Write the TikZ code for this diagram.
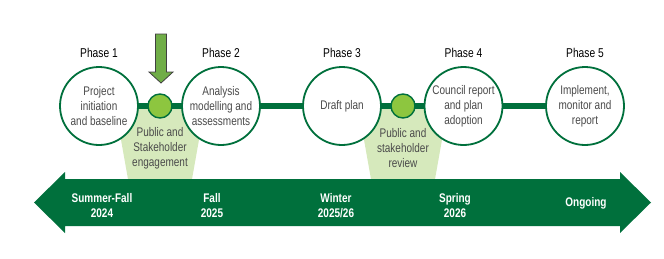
\documentclass[tikz,border=0pt]{standalone}
\usepackage{fontspec}
\setmainfont{Liberation Sans}[FakeStretch=0.8]
\definecolor{dkgreen}{HTML}{00703C}
\definecolor{dotgreen}{HTML}{8DC63F}
\definecolor{trapgreen}{HTML}{D6E9BC}
\definecolor{arrowgreen}{HTML}{70AD47}
\definecolor{txtgray}{HTML}{4A4A4A}
\begin{document}
\begin{tikzpicture}[x=1pt,y=-1pt,
  phasecircle/.style={circle,draw=dkgreen,line width=1.8pt,fill=white,minimum size=78pt,inner sep=0pt,align=center,text=txtgray,font=\fontsize{12.5}{15}\selectfont},
  phaselabel/.style={font=\fontsize{12.8}{15}\selectfont,text=black},
  engdot/.style={circle,draw=dkgreen,line width=1.4pt,fill=dotgreen,minimum size=24pt,inner sep=0pt},
  traptext/.style={align=center,text=txtgray,font=\fontsize{12.5}{15}\selectfont},
  timetext/.style={align=center,text=white,font=\bfseries\fontsize{12.5}{15}\selectfont},
  link/.style={dkgreen,line width=6pt}]
\useasboundingbox (0,0) rectangle (664,258);
% trapezoids
\fill[trapgreen] (115,106) -- (205,106) -- (191.5,182) -- (128.5,182) -- cycle;
\fill[trapgreen] (358,106) -- (448,106) -- (434.5,182) -- (371.5,182) -- cycle;
% timeline arrow
\fill[dkgreen] (34,202.5) -- (65,172) -- (65,179) -- (620,179) -- (620,172) -- (651,202.5) -- (620,233) -- (620,226) -- (65,226) -- (65,233) -- cycle;
% circles
\node[phasecircle] (c1) at (99,106) {Project\\initiation\\and baseline};
\node[phasecircle] (c2) at (221,106) {Analysis\\modelling and\\assessments};
\node[phasecircle] (c3) at (342,106) {Draft plan};
\node[phasecircle] (c4) at (463.5,106) {Council report\\and plan\\adoption};
\node[phasecircle] (c5) at (585,106) {Implement,\\monitor and\\report};
% links
\draw[link] (c1) -- (c2);
\draw[link] (c2) -- (c3);
\draw[link] (c3) -- (c4);
\draw[link] (c4) -- (c5);
% dots
\node[engdot] (d1) at (160,106) {};
\node[engdot] (d2) at (403,106) {};
% phase labels
\node[phaselabel] (p1) at (99,53) {Phase 1};
\node[phaselabel] (p2) at (221,53) {Phase 2};
\node[phaselabel] (p3) at (342,53) {Phase 3};
\node[phaselabel] (p4) at (463.5,53) {Phase 4};
\node[phaselabel] (p5) at (585,53) {Phase 5};
% engagement texts
\node[traptext] (e1) at (160,148) {Public and\\Stakeholder\\engagement};
\node[traptext] (e2) at (403,148) {Public and\\stakeholder\\review};
% timeline texts
\node[timetext] (t1) at (102,205.5) {Summer-Fall\\2024};
\node[timetext] (t2) at (212,205.5) {Fall\\2025};
\node[timetext] (t3) at (336,205.5) {Winter\\2025/26};
\node[timetext] (t4) at (455,205.5) {Spring\\2026};
\node[timetext] (t5) at (586,203) {Ongoing};
% down arrow
\draw[fill=arrowgreen,draw=black!75,line width=0.8pt,line join=miter] (155.5,34) -- (166.5,34) -- (166.5,72) -- (173,72) -- (161,83) -- (149,72) -- (155.5,72) -- cycle;
\end{tikzpicture}
\end{document}
